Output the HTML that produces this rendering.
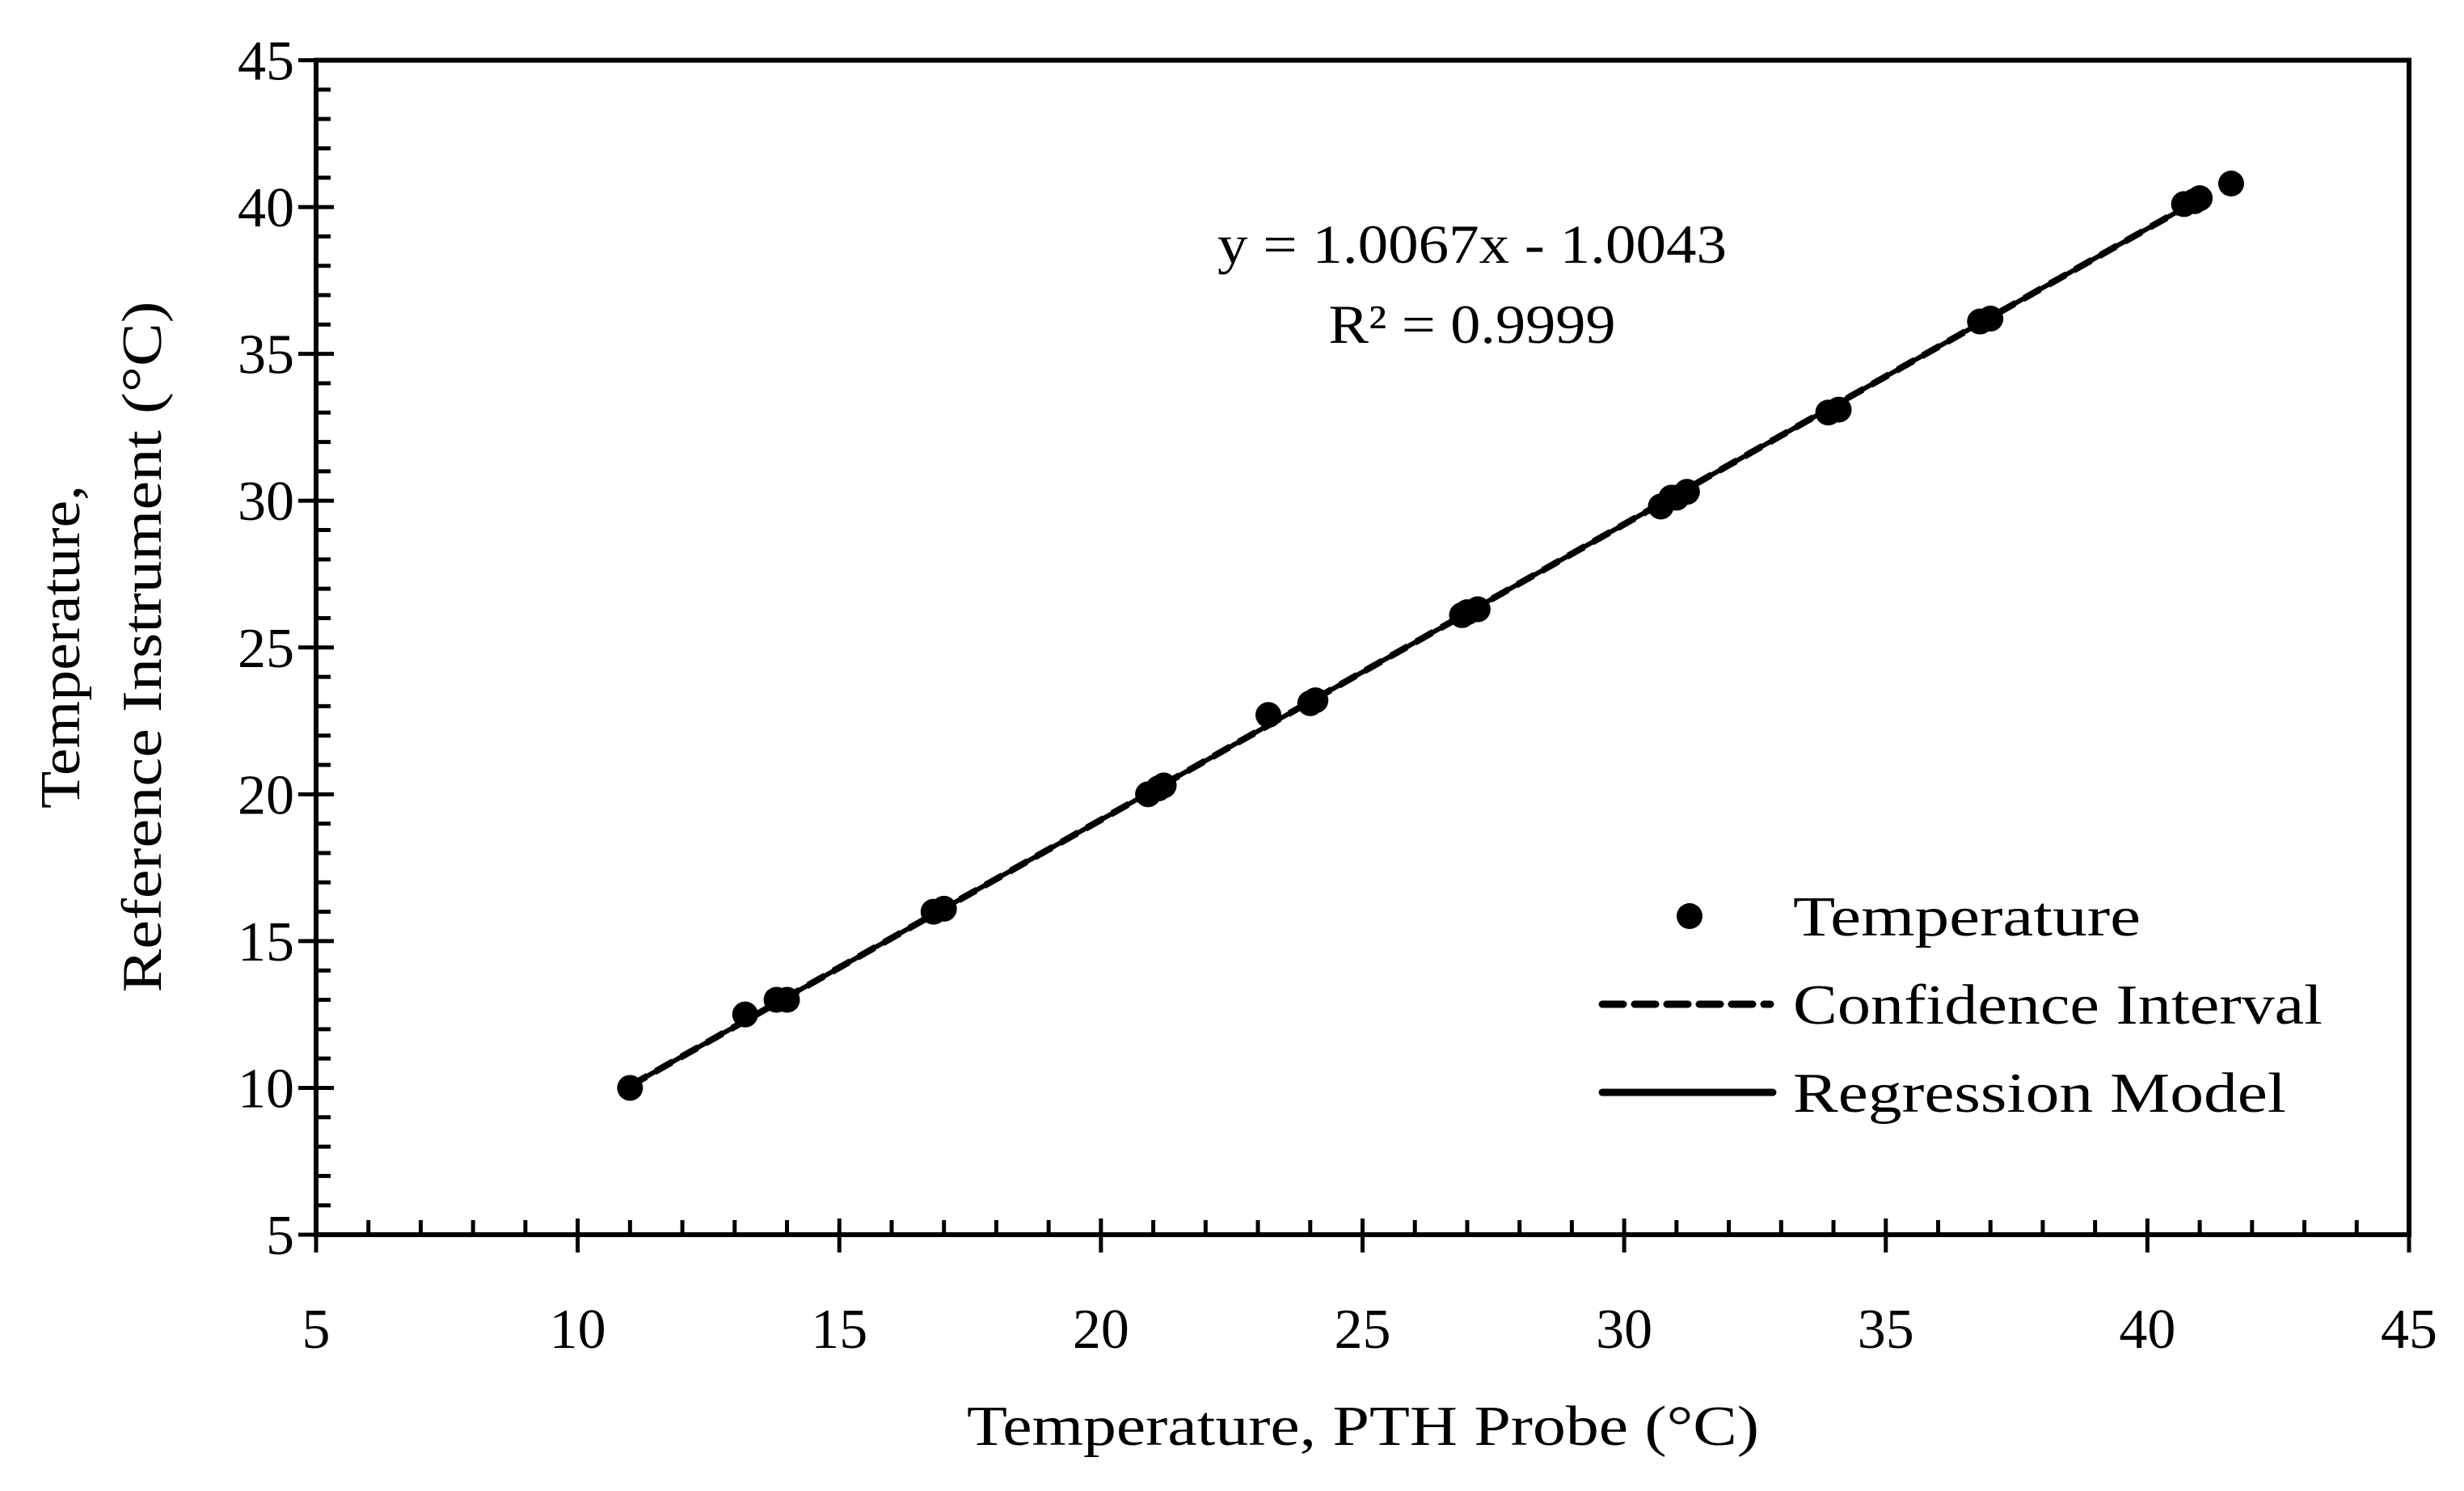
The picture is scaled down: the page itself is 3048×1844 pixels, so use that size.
<!DOCTYPE html>
<html><head><meta charset="utf-8"><style>html,body{margin:0;padding:0;background:#fff}svg{display:block}text{font-family:"Liberation Serif",serif;fill:#000}</style></head>
<body>
<svg id="chart" width="3048" height="1844" viewBox="0 0 3048 1844" xmlns="http://www.w3.org/2000/svg">
<rect width="3048" height="1844" fill="#fff"/>
<g id="ticks"></g>
<g id="marks"></g>
<text x="1821" y="325" font-size="68" text-anchor="middle" textLength="630" lengthAdjust="spacingAndGlyphs">y = 1.0067x - 1.0043</text>
<text x="1821" y="424" font-size="68" text-anchor="middle" textLength="355" lengthAdjust="spacingAndGlyphs">R² = 0.9999</text>
<text x="1686" y="1787" font-size="70" text-anchor="middle" textLength="980" lengthAdjust="spacingAndGlyphs">Temperature, PTH Probe (°C)</text>
<text transform="translate(98,800) rotate(-90)" font-size="70" text-anchor="middle" textLength="400" lengthAdjust="spacingAndGlyphs">Temperature,</text>
<text transform="translate(199,800) rotate(-90)" font-size="70" text-anchor="middle" textLength="855" lengthAdjust="spacingAndGlyphs">Reference Instrument (°C)</text>
<g>
<circle cx="2090" cy="1133" r="16" fill="#000"/>
<text x="2218" y="1157" font-size="70" textLength="430" lengthAdjust="spacingAndGlyphs">Temperature</text>
<line x1="1982" y1="1242" x2="2190" y2="1242" stroke="#000" stroke-width="9" stroke-dasharray="26,14" stroke-linecap="round"/>
<text x="2218" y="1266" font-size="70" textLength="655" lengthAdjust="spacingAndGlyphs">Confidence Interval</text>
<line x1="1982" y1="1351" x2="2193" y2="1351" stroke="#000" stroke-width="9" stroke-linecap="round"/>
<text x="2218" y="1375" font-size="70" textLength="610" lengthAdjust="spacingAndGlyphs">Regression Model</text>
</g>
</svg>
<script>
const xTicks=[5,10,15,20,25,30,35,40,45];
const yTicks=[5,10,15,20,25,30,35,40,45];
const xs=[11.0,13.2,13.8,14.0,16.8,17.0,20.9,21.1,21.2,23.2,24.0,24.1,26.9,27.0,27.2,30.7,30.9,31.0,31.2,33.9,34.1,36.8,37.0,40.7,40.9,41.0,41.6];
const ys=[10.0,12.5,13.0,13.0,16.0,16.1,20.0,20.2,20.3,22.7,23.1,23.2,26.1,26.2,26.3,29.8,30.1,30.1,30.3,33.0,33.1,36.1,36.2,40.1,40.2,40.3,40.8];
const slope=1.0067, intercept=-1.0043;
const fitRange=[11.0,41.0];
const ciOffset=[-0.05,0.05];
const NS='http://www.w3.org/2000/svg';
const X0=391,X1=2980,Y0=1527,Y1=74.5;
function sx(v){return X0+(v-5)/40*(X1-X0);}
function sy(v){return Y0-(v-5)/40*(Y0-Y1);}
function mk(tag,a,parent){const e=document.createElementNS(NS,tag);for(const k in a)e.setAttribute(k,a[k]);parent.appendChild(e);return e;}
const T=document.getElementById('ticks'),M=document.getElementById('marks');
let f=mk('rect',{x:X0,y:Y1,width:X1-X0,height:Y0-Y1,fill:'none',stroke:'#000','stroke-width':6},T);


for(let v=5;v<=45;v++){
  const x=sx(v),major=v%5===0;
  let l=mk('line',{x1:x,x2:x,y1:major?Y0-20:Y0-18,y2:major?Y0+22:Y0,stroke:'#000','stroke-width':5},T);
  
  
  const y=sy(v);
  let m=mk('line',{y1:y,y2:y,x1:major?X0-22:X0,x2:major?X0+22:X0+18,stroke:'#000','stroke-width':5},T);
  
  
}
xTicks.forEach(v=>{let t=mk('text',{x:sx(v),y:1667,'font-size':70,'text-anchor':'middle'},T);t.textContent=v;
  
  });
yTicks.forEach(v=>{let t=mk('text',{x:364,y:sy(v)+24,'font-size':70,'text-anchor':'end'},T);t.textContent=v;
  
  });
ciOffset.forEach(o=>{let l=mk('line',{x1:sx(fitRange[0]),y1:sy(slope*fitRange[0]+intercept+o),x2:sx(fitRange[1]),y2:sy(slope*fitRange[1]+intercept+o),stroke:'#000','stroke-width':5,'stroke-dasharray':'24,12'},M);
  
  });
let r=mk('line',{x1:sx(fitRange[0]),y1:sy(slope*fitRange[0]+intercept),x2:sx(fitRange[1]),y2:sy(slope*fitRange[1]+intercept),stroke:'#000','stroke-width':6},M);


xs.forEach((v,i)=>{let c=mk('circle',{cx:sx(v),cy:sy(ys[i]),r:16,fill:'#000'},M);
  
  });
</script>
</body></html>
